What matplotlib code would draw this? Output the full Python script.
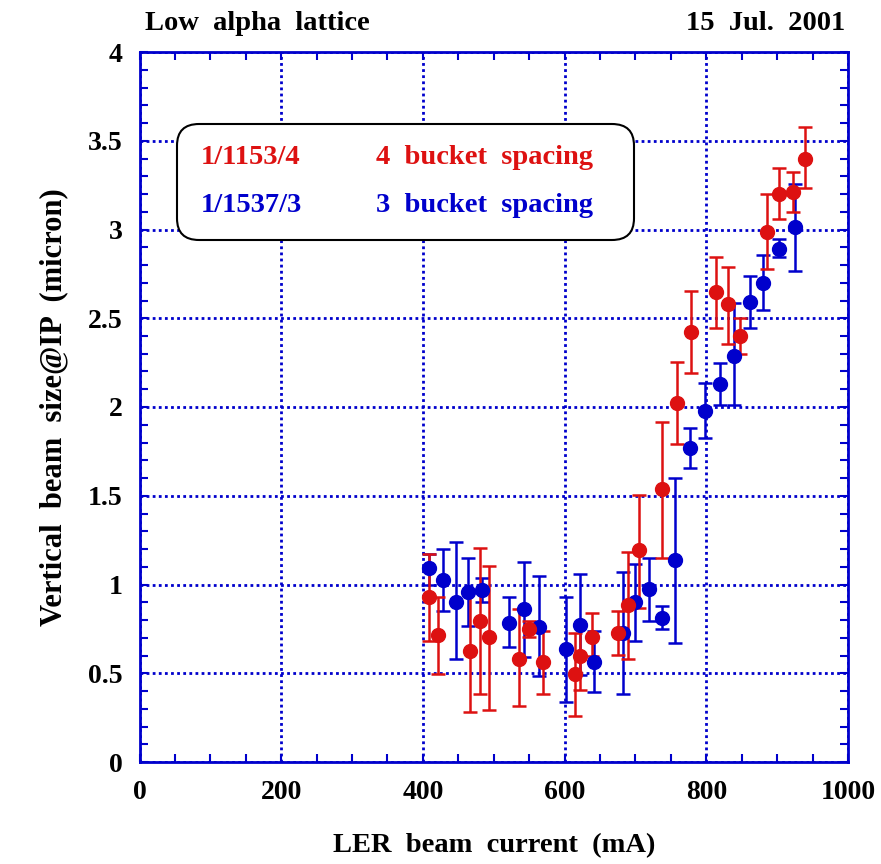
import numpy as np
import matplotlib
matplotlib.use("Agg", force=True)
import matplotlib.pyplot as plt
from matplotlib.patches import FancyBboxPatch
from matplotlib.ticker import MultipleLocator

# 1/1153/4 (4 bucket spacing): x, y, lower end, upper end of error bar
red_x = [408, 422, 466, 480, 494, 536, 550, 569, 614, 622, 639, 675, 689, 705,
         738, 758, 778, 814, 831, 847, 886, 903, 922, 939]
red_y = [0.928, 0.715, 0.627, 0.793, 0.704, 0.582, 0.751, 0.562, 0.494, 0.595,
         0.704, 0.729, 0.883, 1.194, 1.536, 2.024, 2.423, 2.646, 2.579, 2.402,
         2.988, 3.200, 3.211, 3.399]
red_lo = [0.683, 0.496, 0.282, 0.383, 0.293, 0.315, 0.706, 0.383, 0.261, 0.406,
          0.600, 0.603, 0.582, 0.869, 1.147, 1.790, 2.190, 2.447, 2.355, 2.300,
          2.780, 3.057, 3.100, 3.232]
red_hi = [1.170, 0.930, 0.970, 1.204, 1.106, 0.860, 0.796, 0.740, 0.725, 0.780,
          0.841, 0.853, 1.181, 1.502, 1.914, 2.255, 2.655, 2.847, 2.790, 2.500,
          3.200, 3.345, 3.324, 3.575]

# 1/1537/3 (3 bucket spacing)
blue_x = [408, 428, 447, 464, 483, 522, 542, 564, 602, 622, 641, 683, 700, 719,
          737, 756, 777, 798, 819, 839, 861, 880, 903, 925]
blue_y = [1.091, 1.024, 0.903, 0.958, 0.971, 0.783, 0.862, 0.761, 0.639, 0.772,
          0.562, 0.725, 0.903, 0.972, 0.814, 1.138, 1.767, 1.979, 2.132, 2.289,
          2.590, 2.700, 2.888, 3.012]
blue_lo = [1.000, 0.849, 0.582, 0.768, 0.903, 0.650, 0.590, 0.485, 0.338, 0.490,
           0.394, 0.385, 0.683, 0.796, 0.748, 0.672, 1.656, 1.825, 2.013, 2.013,
           2.447, 2.545, 2.847, 2.768]
blue_hi = [1.170, 1.202, 1.239, 1.151, 1.038, 0.930, 1.127, 1.050, 0.930, 1.059,
           0.740, 1.070, 1.117, 1.149, 0.879, 1.602, 1.880, 2.137, 2.246, 2.584,
           2.738, 2.854, 2.946, 3.256]

x_ticks = [0, 200, 400, 600, 800, 1000]
y_ticks = [0, 0.5, 1, 1.5, 2, 2.5, 3, 3.5, 4]
y_tick_labels = ["0", "0.5", "1", "1.5", "2", "2.5", "3", "3.5", "4"]

RED = "#dd1111"
BLUE = "#0000cc"

plt.rcParams["font.family"] = ["Liberation Serif", "DejaVu Serif"]
plt.rcParams["font.weight"] = "bold"

fig = plt.figure(figsize=(8.81, 8.64), dpi=100)
ax = fig.add_axes([139.5 / 881, 1 - 762 / 864, (848 - 139.5) / 881, (762 - 52) / 864])


def draw(x, y, lo, hi, color):
    y = np.asarray(y)
    yerr = [y - np.asarray(lo), np.asarray(hi) - y]
    ax.errorbar(x, y, yerr=yerr, fmt="o", color=color, ecolor=color,
                markersize=10, elinewidth=1.8, capsize=5, capthick=1.8, zorder=3)


draw(blue_x, blue_y, blue_lo, blue_hi, BLUE)
draw(red_x, red_y, red_lo, red_hi, RED)

ax.set_xlim(0, 1000)
ax.set_ylim(0, 4)
ax.set_xticks(x_ticks)
ax.set_xticklabels([str(v) for v in x_ticks])
ax.set_yticks(y_ticks)
ax.set_yticklabels(y_tick_labels)
ax.xaxis.set_minor_locator(MultipleLocator(50))
ax.yaxis.set_minor_locator(MultipleLocator(0.1))

ax.grid(which="major", color=BLUE, linestyle=(0, (1, 1.2)), linewidth=2)
ax.set_axisbelow(True)
for s in ax.spines.values():
    s.set_color(BLUE)
    s.set_linewidth(2)

ax.tick_params(which="both", direction="in", top=True, right=True, color=BLUE,
               width=1.5, labelsize=20)
ax.tick_params(which="major", length=6)
ax.tick_params(which="minor", length=6)
ax.tick_params(axis="x", pad=13)
ax.tick_params(axis="y", pad=12)
for lab in ax.get_xticklabels() + ax.get_yticklabels():
    lab.set_fontweight("bold")

ax.set_xlabel("LER  beam  current  (mA)", fontsize=20.5, fontweight="bold", labelpad=20)
ax.set_ylabel("Vertical  beam  size@IP  (micron)", fontsize=22, fontweight="bold",
              labelpad=14)

fig.text(145 / 881, 1 - 24 / 864, "Low  alpha  lattice", ha="left", va="center",
         fontsize=20.5, fontweight="bold")
fig.text(845 / 881, 1 - 24 / 864, "15  Jul.  2001", ha="right", va="center",
         fontsize=20.5, fontweight="bold")

# legend box
box = FancyBboxPatch((177 / 881, 1 - 240 / 864), (634 - 177) / 881, (240 - 124) / 864,
                     boxstyle="round,pad=0,rounding_size=0.025", transform=fig.transFigure,
                     facecolor="white", edgecolor="black", linewidth=1.5, zorder=5)
fig.patches.append(box)
fig.text(201 / 881, 1 - 158 / 864, "1/1153/4", color=RED, fontsize=20.5,
         fontweight="bold", va="center", zorder=6)
fig.text(376 / 881, 1 - 158 / 864, "4  bucket  spacing", color=RED, fontsize=20.5,
         fontweight="bold", va="center", zorder=6)
fig.text(201 / 881, 1 - 206 / 864, "1/1537/3", color=BLUE, fontsize=20.5,
         fontweight="bold", va="center", zorder=6)
fig.text(376 / 881, 1 - 206 / 864, "3  bucket  spacing", color=BLUE, fontsize=20.5,
         fontweight="bold", va="center", zorder=6)

fig.savefig("out.png", dpi=100)
